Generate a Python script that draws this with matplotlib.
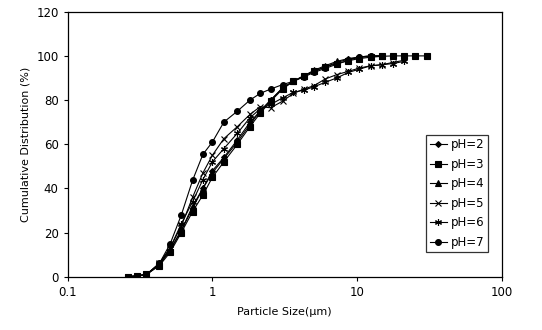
import matplotlib
matplotlib.use("Agg")
import matplotlib.pyplot as plt

# particle size bins (um)
sizes = [0.26, 0.30, 0.35, 0.43, 0.51, 0.61, 0.73, 0.86, 1.0, 1.2, 1.49, 1.82,
         2.14, 2.53, 3.06, 3.63, 4.3, 5.04, 6.01, 7.23, 8.71, 10.4, 12.4, 14.9,
         17.6, 21.1, 25.0, 30.3]

# cumulative distribution (%) for each pH
ph2 = [0, 0.3, 1, 5.5, 12, 21, 31, 40, 48, 54, 62, 70, 75, 80, 85.5, 88.5, 91, 93,
       95, 97, 98.5, 99.3, 99.8, 100]
ph3 = [0, 0.3, 1, 5, 11, 20, 29.5, 37, 45, 52, 60, 68, 74, 79.5, 85, 88.5, 91, 93,
       95, 96.5, 97.8, 98.8, 99.4, 99.8, 100, 100, 100, 100]
ph4 = [0, 0.3, 1, 5.5, 12, 21, 32, 40, 47, 53.5, 61, 69, 75, 80, 85.5, 88.5, 91,
       93.5, 95.5, 97.5, 98.8, 99.5, 100, 100]
ph5 = [0, 0.3, 1, 6, 13, 23, 36, 47, 55, 62.5, 68, 73.5, 77, 76.5, 79.5, 83, 85,
       86.5, 89.5, 91.5, 93, 94.5, 95.5, 96, 97, 98]
ph6 = [0, 0.3, 1, 6, 13, 24, 34, 44, 52, 58, 65, 72, 76, 78, 81, 83.5, 84.5, 86,
       88, 90, 92.5, 94, 95.5, 96, 96.5, 97.5]
ph7 = [0, 0.3, 1, 6, 14.8, 28, 43.7, 55.4, 61, 70, 75, 80, 83, 85, 87, 88.5, 90.5,
       92.5, 94.3, 96.2, 98, 99.5, 100, 100]

series = [
    ("pH=2", ph2, "D", 3.0),
    ("pH=3", ph3, "s", 4.0),
    ("pH=4", ph4, "^", 4.0),
    ("pH=5", ph5, "x", 4.5),
    ("pH=6", ph6, (6, 2, 0), 5.0),
    ("pH=7", ph7, "o", 4.2),
]

plt.rcParams["font.family"] = ["DejaVu Sans"]

fig = plt.figure(figsize=(5.42, 3.30), dpi=100)
ax = fig.add_axes([0.125, 0.1615, 0.8006, 0.803])

for label, vals, marker, ms in series:
    ax.plot(sizes[:len(vals)], vals, color="black", linewidth=0.8,
            marker=marker, markersize=ms, markeredgewidth=0.8, label=label)

ax.set_xscale("log")
ax.set_xlim(0.1, 100)
ax.set_ylim(0, 120)
ax.set_yticks(range(0, 121, 20))
ax.set_xticks([0.1, 1, 10, 100])
ax.set_xticklabels(["0.1", "1", "10", "100"])
ax.minorticks_off()
ax.tick_params(labelsize=8.5, length=3, width=0.8)
for spine in ax.spines.values():
    spine.set_linewidth(0.9)

ax.set_xlabel("Particle Size(\u03bcm)", fontsize=8, labelpad=6)
ax.set_ylabel("Cumulative Distribution (%)", fontsize=8, labelpad=4)

leg = ax.legend(loc="lower right", bbox_to_anchor=(0.982, 0.07), fontsize=8.5,
                frameon=True, fancybox=False, edgecolor="black",
                handlelength=1.5, handletextpad=0.3, labelspacing=0.55,
                borderpad=0.3)
leg.get_frame().set_linewidth(0.9)

fig.savefig("out.png", dpi=100)
